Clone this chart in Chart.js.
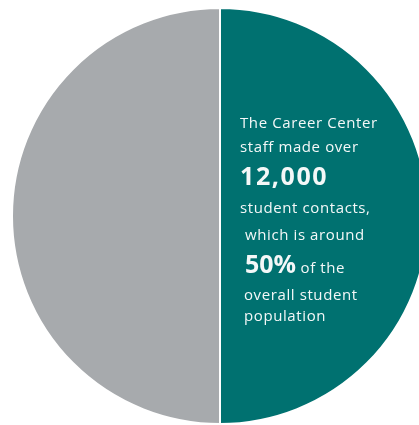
<!DOCTYPE html>
<html>
<head>
<meta charset="utf-8">
<script src="https://cdn.jsdelivr.net/npm/chart.js@4"></script>
<style>
  html, body { margin: 0; padding: 0; background: #fff; overflow: hidden; }
  #wrap { position: absolute; left: 0; top: 0; width: 440px; height: 432px; }
</style>
</head>
<body>
<div id="wrap"><canvas id="myChart" width="440" height="432"></canvas></div>
<script>
// share of the student population
const labels = ["Student contacts", "Rest of students"];
const shares = [50, 50];
const colors = ["#007170", "#A7AAAD"];

// callout text on the teal half: [text, bold?]
const calloutLines = [
  [["The Career Center", false]],
  [["staff made over", false]],
  [["12,000", true]],
  [["student contacts,", false]],
  [["which is around", false]],
  [["50%", true], [" of the", false]],
  [["overall student", false]],
  [["population", false]]
];
const baselines = [128, 152, 185, 213, 240, 273, 300, 321];
const indents = [240, 240, 240, 240, 245, 245, 244, 244];

const calloutPlugin = {
  id: "callout",
  afterDraw(chart) {
    const c = chart.ctx;
    c.save();
    c.fillStyle = "#f4f8f8";
    c.textBaseline = "alphabetic";
    for (let i = 0; i < calloutLines.length; i++) {
      let x = indents[i];
      for (const part of calloutLines[i]) {
        if (part[1]) {
          c.font = "bold 25px 'Open Sans'";
          c.letterSpacing = i == 2 ? "1.6px" : "0px";
        } else {
          c.font = "15px 'Open Sans'";
          c.letterSpacing = "0.6px";
        }
        c.fillText(part[0], x, baselines[i]);
        x += c.measureText(part[0]).width;
      }
    }
    c.restore();
  }
};

const ctx = document.getElementById("myChart");

new Chart(ctx, {
  type: "pie",
  data: {
    labels: labels,
    datasets: [
      {
        data: shares,
        backgroundColor: colors,
        borderColor: "#ffffff",
        borderWidth: 2,
        radius: 208
      }
    ]
  },
  options: {
    responsive: false,
    animation: false,
    layout: { padding: 0 },
    plugins: {
      legend: { display: false },
      tooltip: { enabled: false },
      title: { display: false }
    }
  },
  plugins: [calloutPlugin]
});
</script>
</body>
</html>
